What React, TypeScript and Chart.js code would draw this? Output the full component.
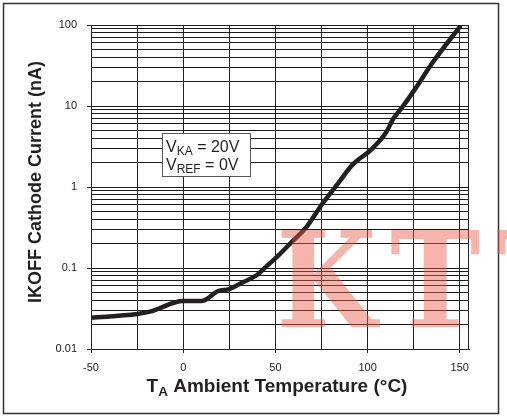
import React, { useEffect, useRef } from 'react';
import { Chart, registerables } from 'chart.js';

Chart.register(...registerables);

// Curve: ambient temperature (°C) vs cathode off-current (nA)
const temperatures = [-50, -25, -18, 0, 10, 19, 25, 32, 40, 45, 51, 58, 67, 75, 84, 92, 102, 110, 114, 119, 126, 135, 150];
const currents = [0.0243, 0.027, 0.0289, 0.039, 0.039, 0.052, 0.055, 0.066, 0.082, 0.104, 0.138, 0.2, 0.324, 0.6, 1.11, 1.9, 2.9, 4.7, 7.0, 9.8, 16.5, 33.7, 95];

const xGridTicks = [-50, -25, 0, 25, 50, 75, 100, 125, 150];
const xTickLabels = [-50, 0, 50, 100, 150];
const xMin = -50;
const xMax = 155;

const yDecades = [0.01, 0.1, 1, 10, 100];
const yTickLabels = ['0.01', '0.1', '1', '10', '100'];
const yMinorSteps = [2, 3, 4, 5, 6, 7, 8, 9];

const xTitleMain = 'T';
const xTitleSub = 'A';
const xTitleRest = ' Ambient Temperature (°C)';
const yTitle = 'IKOFF Cathode Current (nA)';
const noteLines = [
  ['V', 'KA', ' = 20V'],
  ['V', 'REF', ' = 0V'],
];
const watermarkLetters = ['K', 'T', 'T'];

const FONT = '"Liberation Sans", Arial, Helvetica, sans-serif';
const INK = '#231f20';

function isDecade(v: number) {
  const l = Math.log10(v);
  return Math.abs(l - Math.round(l)) < 1e-6;
}

const decorPlugin = {
  id: 'decor',
  afterDatasetsDraw(chart: any) {
    const ctx = chart.ctx as CanvasRenderingContext2D;
    const a = chart.chartArea;
    ctx.save();
    // right border of plot
    ctx.strokeStyle = '#222';
    ctx.lineWidth = 1;
    ctx.beginPath();
    ctx.moveTo(Math.round(a.right) - 0.5, a.top);
    ctx.lineTo(Math.round(a.right) - 0.5, a.bottom);
    ctx.stroke();

    // watermark: each glyph fitted into its box
    ctx.fillStyle = 'rgba(235, 90, 70, 0.45)';
    ctx.font = 'bold 120px "DejaVu Serif", serif';
    ctx.textBaseline = 'alphabetic';
    ctx.textAlign = 'left';
    const boxes = [
      [281, 380],
      [391, 480],
      [497, 586],
    ];
    const top = 229;
    const base = 327;
    watermarkLetters.forEach((ch, i) => {
      const m = ctx.measureText(ch);
      const gl = -m.actualBoundingBoxLeft;
      const gw = m.actualBoundingBoxRight + m.actualBoundingBoxLeft;
      const gh = m.actualBoundingBoxAscent;
      const sx = (boxes[i][1] - boxes[i][0]) / gw;
      const sy = (base - top) / gh;
      ctx.save();
      ctx.translate(boxes[i][0], base);
      ctx.scale(sx, sy);
      ctx.fillText(ch, -gl, 0);
      ctx.restore();
    });

    // note box
    ctx.fillStyle = '#ffffff';
    ctx.fillRect(162, 133, 89, 44);
    ctx.strokeStyle = '#555';
    ctx.lineWidth = 1;
    ctx.strokeRect(162.5, 133.5, 88, 43);
    ctx.fillStyle = INK;
    const baselines = [152, 170];
    noteLines.forEach((parts, i) => {
      let x = 166;
      const b = baselines[i];
      ctx.font = `16px ${FONT}`;
      ctx.fillText(parts[0], x, b);
      x += ctx.measureText(parts[0]).width;
      ctx.font = `12px ${FONT}`;
      ctx.fillText(parts[1], x, b + 3);
      x += ctx.measureText(parts[1]).width;
      ctx.font = `16px ${FONT}`;
      ctx.fillText(parts[2], x, b);
    });

    // x title with subscript
    const mainFont = `bold 19px ${FONT}`;
    const subFont = `bold 13.5px ${FONT}`;
    ctx.font = mainFont;
    const w1 = ctx.measureText(xTitleMain).width;
    const w3 = ctx.measureText(xTitleRest).width;
    ctx.font = subFont;
    const w2 = ctx.measureText(xTitleSub).width;
    const total = w1 + w2 + w3;
    let tx = 277 - total / 2;
    const tb = 392;
    ctx.font = mainFont;
    ctx.fillText(xTitleMain, tx, tb);
    tx += w1;
    ctx.font = subFont;
    ctx.fillText(xTitleSub, tx, tb + 4);
    tx += w2;
    ctx.font = mainFont;
    ctx.fillText(xTitleRest, tx, tb);

    // y title
    ctx.save();
    ctx.translate(41, 182);
    ctx.rotate(-Math.PI / 2);
    ctx.font = `bold 18px ${FONT}`;
    ctx.textAlign = 'center';
    ctx.fillText(yTitle, 0, 0);
    ctx.restore();

    ctx.restore();
  },
  beforeDraw(chart: any) {
    const ctx = chart.ctx as CanvasRenderingContext2D;
    ctx.save();
    ctx.fillStyle = '#ffffff';
    ctx.fillRect(0, 0, chart.width, chart.height);
    ctx.strokeStyle = '#333';
    ctx.lineWidth = 1.5;
    ctx.strokeRect(3.5, 3.5, 495, 410);
    ctx.restore();
  },
};

export default function App() {
  const ref = useRef<HTMLCanvasElement | null>(null);

  useEffect(() => {
    if (!ref.current) return;
    const yGridTicks: number[] = [];
    yDecades.forEach((d, i) => {
      yGridTicks.push(d);
      if (i < yDecades.length - 1) yMinorSteps.forEach((m) => yGridTicks.push(+(d * m).toPrecision(6)));
    });

    const chart = new Chart(ref.current, {
      type: 'line',
      data: {
        datasets: [
          {
            data: temperatures.map((t, i) => ({ x: t, y: currents[i] })),
            borderColor: INK,
            borderWidth: 4.5,
            pointRadius: 0,
            cubicInterpolationMode: 'monotone',
            borderCapStyle: 'round',
            borderJoinStyle: 'round',
            fill: false,
          },
        ],
      },
      options: {
        animation: false,
        responsive: false,
        events: [],
        layout: { padding: { left: 0, top: 25, right: 38, bottom: 0 } },
        plugins: { legend: { display: false }, tooltip: { enabled: false } },
        scales: {
          x: {
            type: 'linear',
            min: xMin,
            max: xMax,
            afterBuildTicks: (s: any) => {
              s.ticks = xGridTicks.map((v) => ({ value: v }));
            },
            afterFit: (s: any) => {
              s.height = 67;
            },
            ticks: {
              autoSkip: false,
              maxRotation: 0,
              padding: 8,
              color: '#222',
              font: { family: FONT, size: 11 },
              callback: (v: any) => (xTickLabels.includes(Number(v)) ? String(v) : ''),
            },
            grid: {
              color: '#222',
              lineWidth: 1,
              tickLength: 4,
              tickColor: (c: any) => (c.tick && xTickLabels.includes(c.tick.value) ? '#222' : 'rgba(0,0,0,0)'),
            },
            border: { color: '#222', width: 1 },
          },
          y: {
            type: 'logarithmic',
            min: yDecades[0],
            max: yDecades[yDecades.length - 1],
            afterBuildTicks: (s: any) => {
              s.ticks = yGridTicks.map((v) => ({ value: v }));
            },
            afterFit: (s: any) => {
              s.width = 91;
            },
            ticks: {
              autoSkip: false,
              padding: 10,
              color: '#222',
              font: { family: FONT, size: 11 },
              callback: (v: any) => {
                const n = Number(v);
                const idx = yDecades.findIndex((d) => Math.abs(d - n) / d < 1e-6);
                return idx >= 0 ? yTickLabels[idx] : '';
              },
            },
            grid: {
              color: '#1a1a1a',
              lineWidth: 1,
              tickLength: 4,
              tickColor: (c: any) => (c.tick && isDecade(c.tick.value) ? '#222' : 'rgba(0,0,0,0)'),
            },
            border: { color: '#222', width: 1 },
          },
        },
      },
      plugins: [decorPlugin],
    } as any);

    return () => chart.destroy();
  }, []);

  return (
    <div style={{ position: 'fixed', left: 0, top: 0, width: 507, height: 416, background: '#fff' }}>
      <canvas ref={ref} width={507} height={416} style={{ width: 507, height: 416, display: 'block' }} />
    </div>
  );
}
